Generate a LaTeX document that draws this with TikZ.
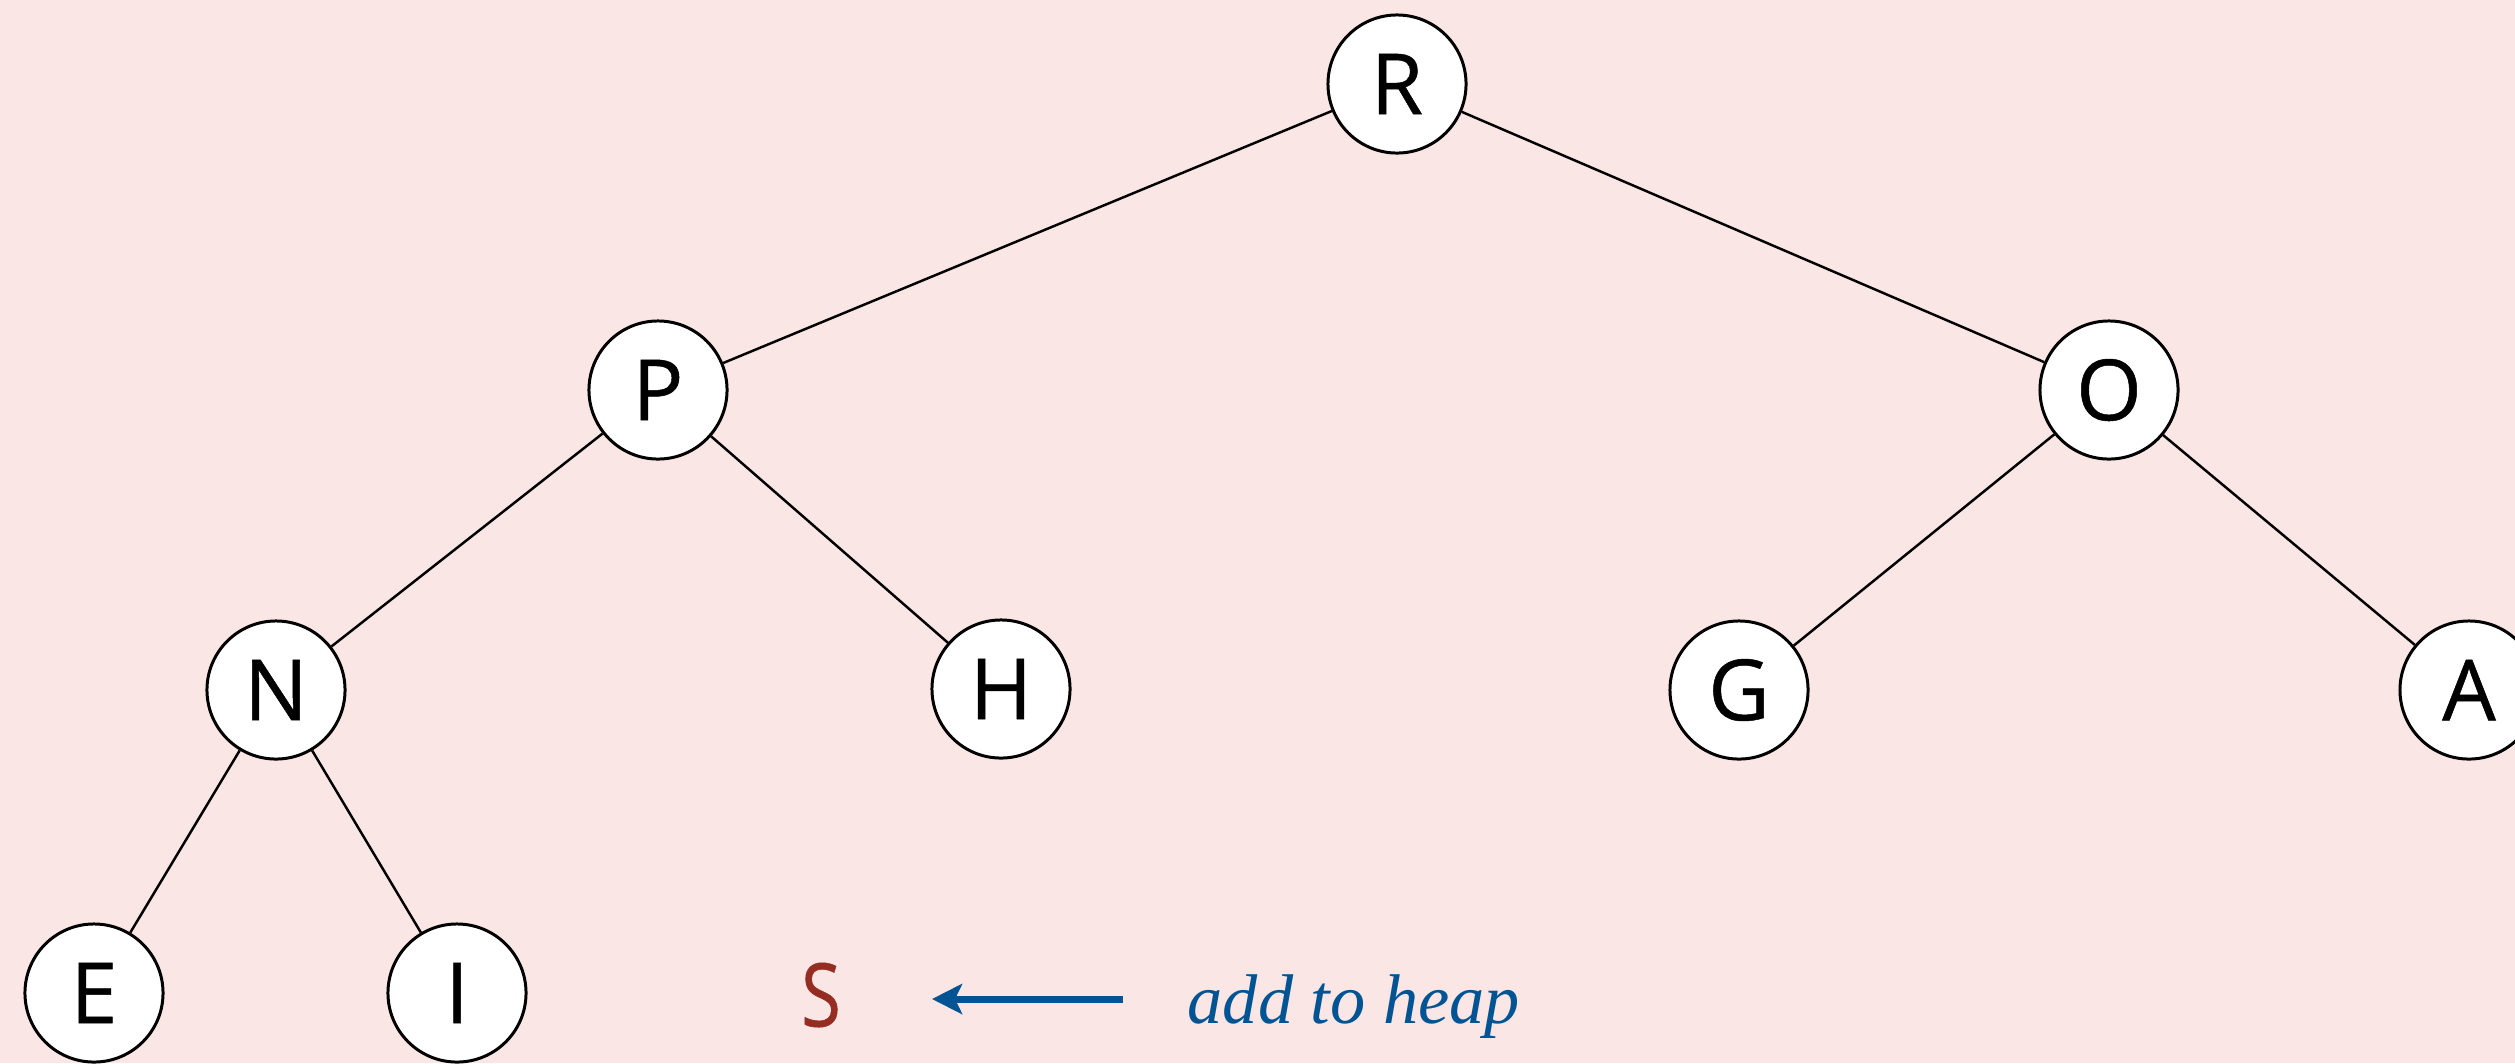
\documentclass[tikz,border=0pt]{standalone}
\usepackage{fontspec}
\setmainfont{Liberation Serif}
\newfontfamily\keyfont[FakeBold=0.6]{Open Sans}
\usetikzlibrary{arrows.meta}
\definecolor{bgpink}{RGB}{250,230,228}
\definecolor{heapblue}{RGB}{0,84,147}
\definecolor{heapred}{RGB}{150,45,35}
\begin{document}
\begin{tikzpicture}[x=0.01cm,y=-0.01cm,
  key/.style={circle,draw=black,fill=white,line width=0.85pt,minimum size=1.38cm,inner sep=0pt,font=\keyfont\fontsize{24}{24}\selectfont},
  link/.style={line width=0.7pt,black}]
\fill[bgpink] (0,0) rectangle (2515,1063);
\useasboundingbox (0,0) rectangle (2515,1063);
\begin{scope}
\clip (0,0) rectangle (2515,1063);
\node[key] (R) at (1397,84) {R};
\node[key] (P) at (658,390) {P};
\node[key] (O) at (2109,390) {O};
\node[key] (N) at (276,690) {N};
\node[key] (H) at (1001,689) {H};
\node[key] (G) at (1739,690) {G};
\node[key] (A) at (2469,690) {A};
\node[key] (E) at (94,993) {E};
\node[key] (I) at (457,993) {I};
\draw[link] (R) -- (P);
\draw[link] (R) -- (O);
\draw[link] (P) -- (N);
\draw[link] (P) -- (H);
\draw[link] (O) -- (G);
\draw[link] (O) -- (A);
\draw[link] (N) -- (E);
\draw[link] (N) -- (I);
\end{scope}
\node[text=heapred,font=\keyfont\fontsize{25}{25}\selectfont,xscale=0.82,inner sep=0pt] (S) at (821,995) {S};
\coordinate (arrowstart) at (1123,999);
\coordinate (arrowend) at (932,999);
\draw[heapblue,line width=2pt,-{Stealth[length=0.3cm,width=0.3cm,inset=0.07cm]}] (arrowstart) -- (arrowend);
\node[anchor=base west,text=heapblue,font=\itshape\fontsize{20}{20}\selectfont,inner sep=0pt] (lbl) at (1187,1023) {add to heap};
\end{tikzpicture}
\end{document}
